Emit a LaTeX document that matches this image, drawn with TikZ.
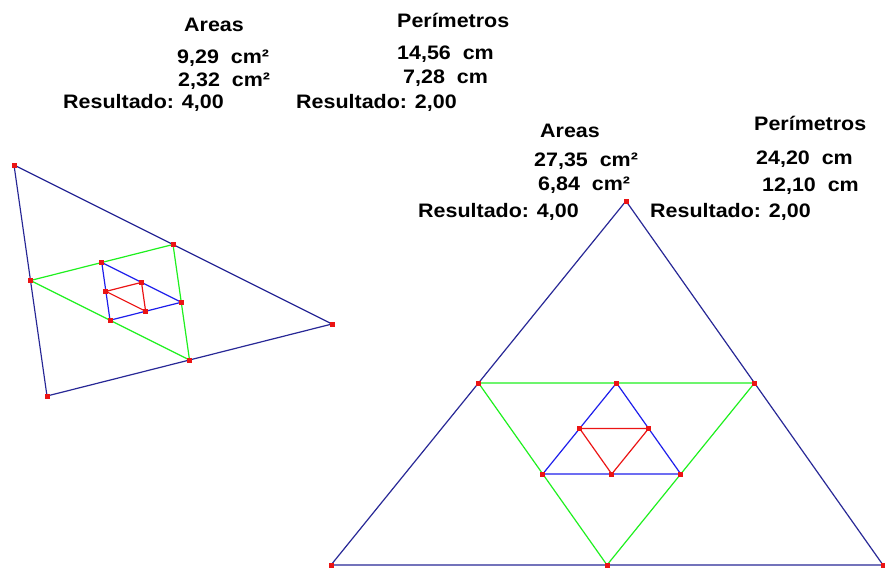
\documentclass[tikz,border=0pt]{standalone}
\usepackage{fontspec}
\setmainfont{Liberation Sans}[FakeStretch=1.1]
\usepackage{tikz}
\usetikzlibrary{calc}
\definecolor{navyline}{RGB}{40,40,150}
\definecolor{greenline}{RGB}{30,240,30}
\definecolor{blueline}{RGB}{30,30,235}
\definecolor{redline}{RGB}{235,20,20}

\begin{document}
\begin{tikzpicture}[x=1pt,y=-1pt,
  lbl/.style={anchor=base west,inner sep=0pt,font=\fontsize{19.5}{22}\selectfont\bfseries},
  outer/.style={draw=navyline,line width=1.2pt},
  mid/.style={draw=greenline,line width=1.2pt},
  inner/.style={draw=blueline,line width=1.2pt},
  core/.style={draw=redline,line width=1.2pt},
  vdot/.style={fill=redline}]
  \useasboundingbox (0,0) rectangle (885,567);
  % outer triangles
  \coordinate (lA) at (14,165);
  \coordinate (lB) at (332,324);
  \coordinate (lC) at (47,396);
  \coordinate (rA) at (626,201);
  \coordinate (rB) at (331,565);
  \coordinate (rC) at (883,565);
  % each inner triangle joins the midpoints of the one round it
  \foreach \t in {l,r} {
    \coordinate (\t1) at ($(\t A)!.5!(\t B)$);
    \coordinate (\t2) at ($(\t B)!.5!(\t C)$);
    \coordinate (\t3) at ($(\t C)!.5!(\t A)$);
    \coordinate (\t4) at ($(\t1)!.5!(\t2)$);
    \coordinate (\t5) at ($(\t2)!.5!(\t3)$);
    \coordinate (\t6) at ($(\t3)!.5!(\t1)$);
    \coordinate (\t7) at ($(\t4)!.5!(\t5)$);
    \coordinate (\t8) at ($(\t5)!.5!(\t6)$);
    \coordinate (\t9) at ($(\t6)!.5!(\t4)$);
    \draw[outer] (\t A) -- (\t B) -- (\t C) -- cycle;
    \draw[mid] (\t1) -- (\t2) -- (\t3) -- cycle;
    \draw[inner] (\t4) -- (\t5) -- (\t6) -- cycle;
    \draw[core] (\t7) -- (\t8) -- (\t9) -- cycle;
    \foreach \p in {A,B,C,1,2,3,4,5,6,7,8,9}
      \fill[vdot] (\t\p) +(-2.5,-2.5) rectangle +(2.5,2.5);
  }
  % left results
  \node[lbl] (lareas) at (184,32) {Areas};
  \node[lbl] (larea1) at (177,64) {9,29\ \ cm²};
  \node[lbl] (larea2) at (178,87) {2,32\ \ cm²};
  \node[lbl] (lares) at (63,109) {Resultado: 4,00};
  \node[lbl] (lperim) at (397,28) {Perímetros};
  \node[lbl] (lperim1) at (397,60) {14,56\ \ cm};
  \node[lbl] (lperim2) at (403,84) {7,28\ \ cm};
  \node[lbl] (lpres) at (296,109) {Resultado: 2,00};
  % right results
  \node[lbl] (rareas) at (540,137) {Areas};
  \node[lbl] (rarea1) at (534,166) {27,35\ \ cm²};
  \node[lbl] (rarea2) at (538,190) {6,84\ \ cm²};
  \node[lbl] (rares) at (418,217) {Resultado: 4,00};
  \node[lbl] (rperim) at (754,131) {Perímetros};
  \node[lbl] (rperim1) at (756,164) {24,20\ \ cm};
  \node[lbl] (rperim2) at (762,191) {12,10\ \ cm};
  \node[lbl] (rpres) at (650,217) {Resultado: 2,00};
\end{tikzpicture}
\end{document}
